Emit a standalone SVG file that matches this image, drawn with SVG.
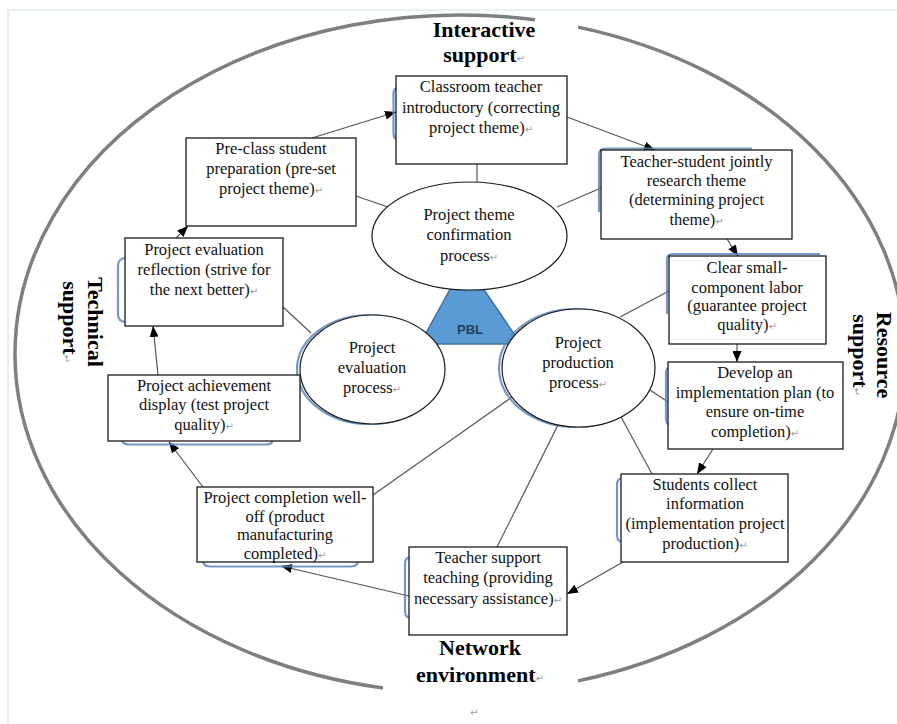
<svg xmlns="http://www.w3.org/2000/svg" width="897" height="724" viewBox="0 0 897 724">
  <defs>
    <marker id="ah" markerUnits="userSpaceOnUse" markerWidth="11" markerHeight="9" refX="11" refY="4.5" orient="auto">
      <path d="M0,0 L11,4.5 L0,9 z" fill="#000"/>
    </marker>
    <style>
      .frame { stroke:#d3ead3; stroke-width:1.2; fill:none }
      .outer { fill:none; stroke:#7f7f7f; stroke-width:3.5 }
      .box { fill:#fff; stroke:#1a1a1a; stroke-width:1.3 }
      .ell { fill:#fff; stroke:#1a1a1a; stroke-width:1.2 }
      .sh { fill:none; stroke:#5b86b8; stroke-width:2.2; opacity:.85 }
      .t { font-family:"Liberation Serif","Times New Roman",serif; font-size:16.5px; fill:#111; text-anchor:middle }
      .lbl { font-family:"Liberation Serif","Times New Roman",serif; font-weight:bold; font-size:22px; fill:#000; text-anchor:middle }
      .pm { font-family:"DejaVu Sans",sans-serif; font-size:10px; fill:#9a9a9a; font-weight:normal }
      .ln { stroke:#555; stroke-width:1.2; fill:none }
      .ar { marker-end:url(#ah) }
      .pbl { fill:#5b9bd5; stroke:#41719c; stroke-width:1.5 }
      .pbltxt { font-family:"Liberation Sans",Arial,sans-serif; font-weight:bold; font-size:13px; fill:#26425e; text-anchor:middle }
    </style>
  </defs>

  <rect width="897" height="724" fill="#fff"/>
  <!-- page frame -->
  <path class="frame" d="M8,724 V10 H897"/>

  <!-- outer support ring, open at top and bottom for labels -->
  <g id="ring">
    <path class="outer" d="M535,19.8 A445,339 0 0,0 15,354 A445,339 0 0,0 383,687.9"/>
    <path class="outer" d="M578,27.1 A445,339 0 0,1 905,354 A445,339 0 0,1 578,680.9"/>
  </g>

  <!-- ring labels -->
  <g id="label-interactive">
    <text class="lbl"><tspan x="484" y="37">Interactive</tspan><tspan x="484" y="62">support<tspan class="pm">↵</tspan></tspan></text>
  </g>
  <g id="label-technical" transform="translate(88,322) rotate(90)">
    <text class="lbl"><tspan x="0" y="0">Technical</tspan><tspan x="0" y="25">support<tspan class="pm">↵</tspan></tspan></text>
  </g>
  <g id="label-resource" transform="translate(877,355) rotate(90)">
    <rect x="-50" y="-18" width="100" height="48" fill="#fff"/>
    <text class="lbl"><tspan x="0" y="0">Resource</tspan><tspan x="0" y="24">support<tspan class="pm">↵</tspan></tspan></text>
  </g>
  <g id="label-network">
    <text class="lbl"><tspan x="480" y="655">Network</tspan><tspan x="480" y="682">environment<tspan class="pm">↵</tspan></tspan></text>
    <text class="pm" x="470" y="716">↵</text>
  </g>

  <!-- connectors -->
  <g id="connectors">
    <!-- process ellipses to step boxes -->
    <line class="ln" x1="477" y1="164" x2="477" y2="182"/>
    <line class="ln" x1="356" y1="196" x2="388" y2="207"/>
    <line class="ln" x1="557" y1="207" x2="601" y2="188"/>
    <line class="ln" x1="620" y1="317" x2="669" y2="291"/>
    <line class="ln" x1="650" y1="390" x2="668" y2="402"/>
    <line class="ln" x1="620" y1="415" x2="652" y2="474"/>
    <line class="ln" x1="558" y1="425" x2="497" y2="547"/>
    <line class="ln" x1="512" y1="397" x2="373" y2="495"/>
    <line class="ln" x1="283" y1="307" x2="311" y2="333"/>
    <!-- project cycle -->
    <line class="ln ar" x1="312" y1="138" x2="396" y2="112"/>
    <line class="ln ar" x1="567" y1="117" x2="655" y2="150"/>
    <line class="ln ar" x1="727" y1="239" x2="738" y2="256"/>
    <line class="ln ar" x1="737" y1="344" x2="737" y2="362"/>
    <line class="ln ar" x1="713" y1="449" x2="697" y2="474"/>
    <line class="ln ar" x1="623" y1="562" x2="567" y2="594"/>
    <line class="ln ar" x1="409" y1="596" x2="281" y2="566"/>
    <line class="ln ar" x1="203" y1="487" x2="169" y2="442"/>
    <line class="ln ar" x1="158" y1="375" x2="153" y2="326"/>
    <line class="ln ar" x1="176" y1="238" x2="188" y2="226"/>
  </g>

  <!-- PBL core -->
  <g id="pbl">
    <polygon class="pbl" points="465,262 420,344 521,344"/>
  </g>

  <!-- phase ellipses -->
  <g id="theme-process">
    <ellipse class="ell" cx="469.5" cy="236" rx="97.5" ry="54"/>
    <text class="t"><tspan x="469" y="220">Project theme</tspan><tspan x="469" y="240">confirmation</tspan><tspan x="469" y="261">process<tspan class="pm">↵</tspan></tspan></text>
  </g>
  <g id="evaluation-process">
    <ellipse class="sh" cx="369.5" cy="369.5" rx="72.5" ry="54.5"/>
    <ellipse class="ell" cx="372.5" cy="369.5" rx="72.5" ry="54.5"/>
    <text class="t"><tspan x="372" y="353">Project</tspan><tspan x="372" y="373">evaluation</tspan><tspan x="372" y="393">process<tspan class="pm">↵</tspan></tspan></text>
  </g>
  <g id="production-process">
    <ellipse class="sh" cx="575.5" cy="368" rx="76.5" ry="59"/>
    <ellipse class="ell" cx="578.5" cy="368" rx="76.5" ry="59"/>
    <text class="t"><tspan x="578" y="348">Project</tspan><tspan x="578" y="368">production</tspan><tspan x="578" y="388">process<tspan class="pm">↵</tspan></tspan></text>
  </g>
  <g id="pbl-label">
    <text class="pbltxt" x="470" y="334">PBL</text>
  </g>

  <!-- step boxes -->
  <g id="step-classroom-intro">
    <path class="sh" d="M400,87 Q393.5,87 393.5,94 V133 Q393.5,140 400,140"/>
    <rect class="box" x="396" y="76" width="171" height="88"/>
    <text class="t"><tspan x="481" y="92">Classroom teacher</tspan><tspan x="481" y="113">introductory (correcting</tspan><tspan x="481" y="133">project theme)<tspan class="pm">↵</tspan></tspan></text>
  </g>
  <g id="step-preclass">
    <rect class="box" x="186" y="138" width="170" height="88"/>
    <text class="t"><tspan x="271" y="154">Pre-class student</tspan><tspan x="271" y="174">preparation (pre-set</tspan><tspan x="271" y="194">project theme)<tspan class="pm">↵</tspan></tspan></text>
  </g>
  <g id="step-joint-research">
    <path class="sh" d="M599,212 V155 Q599,148.5 606,148.5 H752"/>
    <rect class="box" x="601" y="150" width="191" height="89"/>
    <text class="t"><tspan x="696.5" y="167">Teacher-student jointly</tspan><tspan x="696.5" y="186">research theme</tspan><tspan x="696.5" y="205">(determining project</tspan><tspan x="696.5" y="225">theme)<tspan class="pm">↵</tspan></tspan></text>
  </g>
  <g id="step-division">
    <path class="sh" d="M667,314 V260 Q667,254 673,254 H820"/>
    <rect class="box" x="669" y="256" width="157" height="88"/>
    <text class="t"><tspan x="747" y="273">Clear small-</tspan><tspan x="747" y="293">component labor</tspan><tspan x="747" y="311">(guarantee project</tspan><tspan x="747" y="330">quality)<tspan class="pm">↵</tspan></tspan></text>
  </g>
  <g id="step-plan">
    <path class="sh" d="M671,367 Q666,367 666,373 V419 Q666,425 671,425"/>
    <rect class="box" x="668" y="362" width="175" height="87"/>
    <text class="t"><tspan x="755" y="378">Develop an</tspan><tspan x="755" y="398">implementation plan (to</tspan><tspan x="755" y="417">ensure on-time</tspan><tspan x="755" y="437">completion)<tspan class="pm">↵</tspan></tspan></text>
  </g>
  <g id="step-collect">
    <path class="sh" d="M623,478 Q617,478 617,485 V535 Q617,542 623,542"/>
    <rect class="box" x="621" y="474" width="167" height="88"/>
    <text class="t"><tspan x="705" y="490">Students collect</tspan><tspan x="705" y="509">information</tspan><tspan x="705" y="529">(implementation project</tspan><tspan x="705" y="549">production)<tspan class="pm">↵</tspan></tspan></text>
  </g>
  <g id="step-teacher-support">
    <path class="sh" d="M411,557 Q405,557 405,564 V611 Q405,618 411,618"/>
    <rect class="box" x="409" y="547" width="158" height="88"/>
    <text class="t"><tspan x="488" y="563">Teacher support</tspan><tspan x="488" y="583">teaching (providing</tspan><tspan x="488" y="604">necessary assistance)<tspan class="pm">↵</tspan></tspan></text>
  </g>
  <g id="step-completion">
    <path class="sh" d="M203,560 Q203,566.5 210,566.5 H351 Q358,566.5 358,560"/>
    <rect class="box" x="197" y="487" width="176" height="75"/>
    <text class="t"><tspan x="285" y="503">Project completion well-</tspan><tspan x="285" y="522">off (product</tspan><tspan x="285" y="540">manufacturing</tspan><tspan x="285" y="559">completed)<tspan class="pm">↵</tspan></tspan></text>
  </g>
  <g id="step-display">
    <path class="sh" d="M122,439 Q122,444.5 129,444.5 H266 Q273,444.5 273,439"/>
    <rect class="box" x="108" y="375" width="192" height="66"/>
    <text class="t"><tspan x="204" y="391">Project achievement</tspan><tspan x="204" y="410">display (test project</tspan><tspan x="204" y="430">quality)<tspan class="pm">↵</tspan></tspan></text>
  </g>
  <g id="step-reflection">
    <path class="sh" d="M126,258 Q118,258 118,266 V314 Q118,322 126,322"/>
    <rect class="box" x="125" y="238" width="158" height="88"/>
    <text class="t"><tspan x="204" y="255">Project evaluation</tspan><tspan x="204" y="275">reflection (strive for</tspan><tspan x="204" y="295">the next better)<tspan class="pm">↵</tspan></tspan></text>
  </g>
</svg>
